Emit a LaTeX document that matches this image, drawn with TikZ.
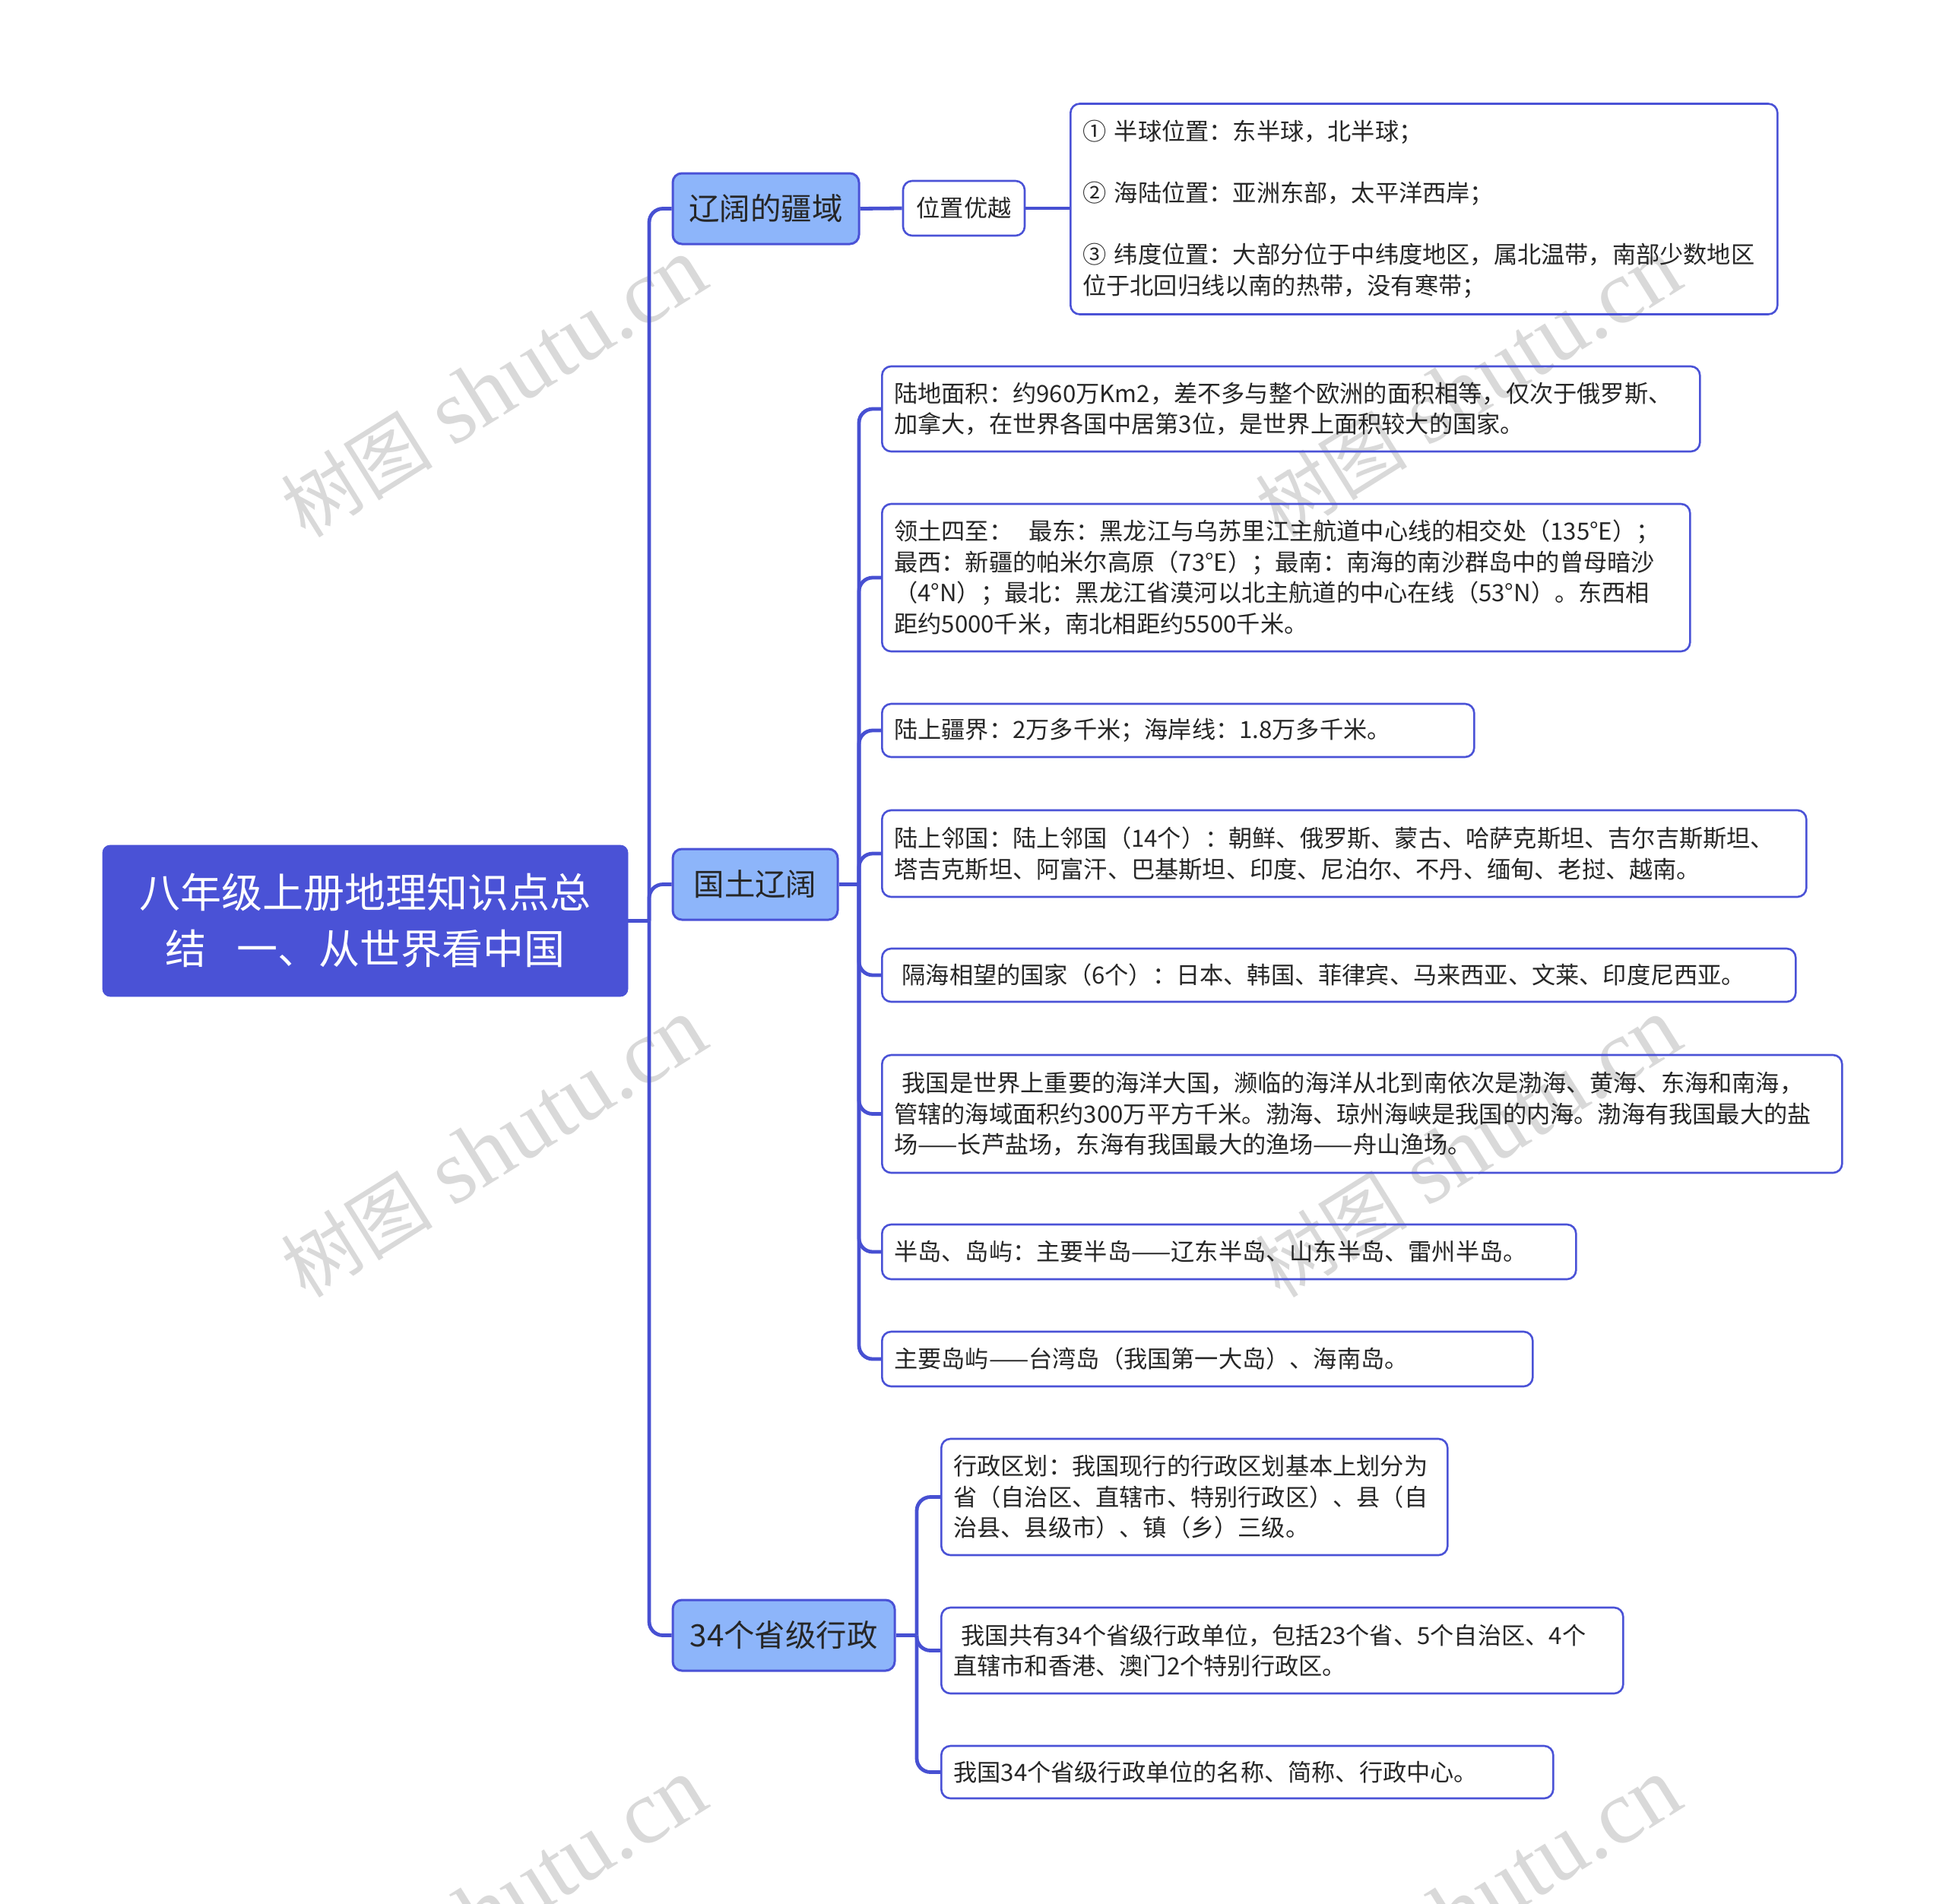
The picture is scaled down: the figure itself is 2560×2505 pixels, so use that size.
\documentclass[tikz,border=0pt]{standalone}
\usepackage{fontspec}
\setmainfont{Noto Sans CJK SC}
\newfontfamily\wmlat{Liberation Serif}
\definecolor{mainblue}{HTML}{4A52D6}
\definecolor{lineblue}{HTML}{4750D2}
\definecolor{lightblue}{HTML}{8DB5FA}
\definecolor{txt}{HTML}{262626}
\definecolor{wm}{HTML}{D9D9D9}
\begin{document}
\begin{tikzpicture}[x=0.5pt,y=-0.5pt,
  conn/.style={draw=lineblue,line width=2.4pt,rounded corners=9pt},
  rootbox/.style={draw=mainblue,fill=mainblue,rounded corners=5pt,text=white,align=center,
    font=\fontsize{27}{37}\selectfont,minimum width=345.5pt,minimum height=99.5pt,inner sep=0pt},
  topicbox/.style={draw=mainblue,line width=1.5pt,fill=lightblue,rounded corners=6pt,text=txt,
    font=\fontsize{20.2}{24}\selectfont,inner sep=0pt,minimum height=46.5pt},
  smallbox/.style={draw=mainblue,line width=1.3pt,rounded corners=6pt,text=txt,
    font=\fontsize{15.6}{20.3}\selectfont,inner sep=0pt},
  leafbox/.style={draw=mainblue,line width=1.3pt,rounded corners=6pt,text=txt,
    font=\fontsize{15.6}{20.3}\selectfont,align=left,inner xsep=8pt,inner ysep=0pt,anchor=west},
  wmark/.style={text=wm,rotate=32,font=\fontsize{60}{60}\selectfont,inner sep=0pt}
]
\useasboundingbox (0,0) rectangle (2560,2505);

% watermarks
\foreach \wx in {650,1932}{
  \foreach \wy in {510,1510,2510}{
    \node[wmark] (wm-\wx-\wy) at (\wx,\wy) {{\fontsize{50}{50}\selectfont 树图} {\wmlat shutu.cn}};
  }
}

% root and topics
\node[rootbox] (root) at (480.5,1211.5) {八年级上册地理知识点总\\结\hspace{0.75em}一、从世界看中国};
\node[topicbox,minimum width=122.5pt] (t1) at (1007.5,274.5) {辽阔的疆域};
\node[topicbox,minimum width=108.5pt] (t2) at (993.5,1163.5) {国土辽阔};
\node[topicbox,minimum width=146pt] (t3) at (1031,2151.5) {34个省级行政};

% branch 1
\node[smallbox,minimum width=80pt,minimum height=36pt] (pos) at (1268,274) {位置优越};
\node[leafbox,text width=449pt,minimum height=138.5pt] (b1) at (1407,275)
  {① 半球位置：东半球，北半球；\\[20.3pt]
   ② 海陆位置：亚洲东部，太平洋西岸；\\[20.3pt]
   ③ 纬度位置：大部分位于中纬度地区，属北温带，南部少数地区\\
   位于北回归线以南的热带，没有寒带；};

% branch 2
\node[leafbox,text width=522pt,minimum height=56pt] (c1) at (1159,538)
  {陆地面积：约960万Km2，差不多与整个欧洲的面积相等，仅次于俄罗斯、\\
   加拿大，在世界各国中居第3位，是世界上面积较大的国家。};
\node[leafbox,text width=515.5pt,minimum height=97pt] (c2) at (1159,760)
  {领土四至：\ \ 最东：黑龙江与乌苏里江主航道中心线的相交处（135°E）；\\
   最西：新疆的帕米尔高原（73°E）；最南：南海的南沙群岛中的曾母暗沙\\
   （4°N）；最北：黑龙江省漠河以北主航道的中心在线（53°N）。东西相\\
   距约5000千米，南北相距约5500千米。};
\node[leafbox,text width=373.5pt,minimum height=35pt] (c3) at (1159,961)
  {陆上疆界：2万多千米；海岸线：1.8万多千米。};
\node[leafbox,text width=592pt,minimum height=57pt] (c4) at (1159,1123)
  {陆上邻国：陆上邻国（14个）：朝鲜、俄罗斯、蒙古、哈萨克斯坦、吉尔吉斯斯坦、\\
   塔吉克斯坦、阿富汗、巴基斯坦、印度、尼泊尔、不丹、缅甸、老挝、越南。};
\node[leafbox,text width=585pt,minimum height=35pt] (c5) at (1159,1283)
  {\ 隔海相望的国家（6个）：日本、韩国、菲律宾、马来西亚、文莱、印度尼西亚。};
\node[leafbox,text width=615.5pt,minimum height=77.5pt] (c6) at (1159,1465.5)
  {\ 我国是世界上重要的海洋大国，濒临的海洋从北到南依次是渤海、黄海、东海和南海，\\
   管辖的海域面积约300万平方千米。渤海、琼州海峡是我国的内海。渤海有我国最大的盐\\
   场——长芦盐场，东海有我国最大的渔场——舟山渔场。};
\node[leafbox,text width=440.5pt,minimum height=36pt] (c7) at (1159,1647)
  {半岛、岛屿：主要半岛——辽东半岛、山东半岛、雷州半岛。};
\node[leafbox,text width=412pt,minimum height=36pt] (c8) at (1159,1788)
  {主要岛屿——台湾岛（我国第一大岛）、海南岛。};

% branch 3
\node[leafbox,text width=317pt,minimum height=76.5pt] (d1) at (1237,1969.5)
  {行政区划：我国现行的行政区划基本上划分为\\
   省（自治区、直辖市、特别行政区）、县（自\\
   治县、县级市）、镇（乡）三级。};
\node[leafbox,text width=432.5pt,minimum height=56.5pt] (d2) at (1237,2171.5)
  {\ 我国共有34个省级行政单位，包括23个省、5个自治区、4个\\
   直辖市和香港、澳门2个特别行政区。};
\node[leafbox,text width=386.5pt,minimum height=34.5pt] (d3) at (1237,2331.5)
  {我国34个省级行政单位的名称、简称、行政中心。};

% connectors
\coordinate (j0) at (854,1211.5);
\coordinate (j1) at (1130,1163.5);
\coordinate (j2) at (1206,2151.5);
\draw[conn] (root.east) -- (j0);
\foreach \n in {t1,t2,t3} \draw[conn] (j0) |- (\n.west);
\draw[conn] (t1.east) -- (pos.west);
\draw[conn] (pos.east) -- (pos.east -| b1.west);
\draw[conn] (t2.east) -- (j1);
\foreach \n in {c1,c2,c3,c4,c5,c6,c7,c8} \draw[conn] (j1) |- (\n.west);
\draw[conn] (t3.east) -- (j2);
\foreach \n in {d1,d2,d3} \draw[conn] (j2) |- (\n.west);
\end{tikzpicture}
\end{document}
